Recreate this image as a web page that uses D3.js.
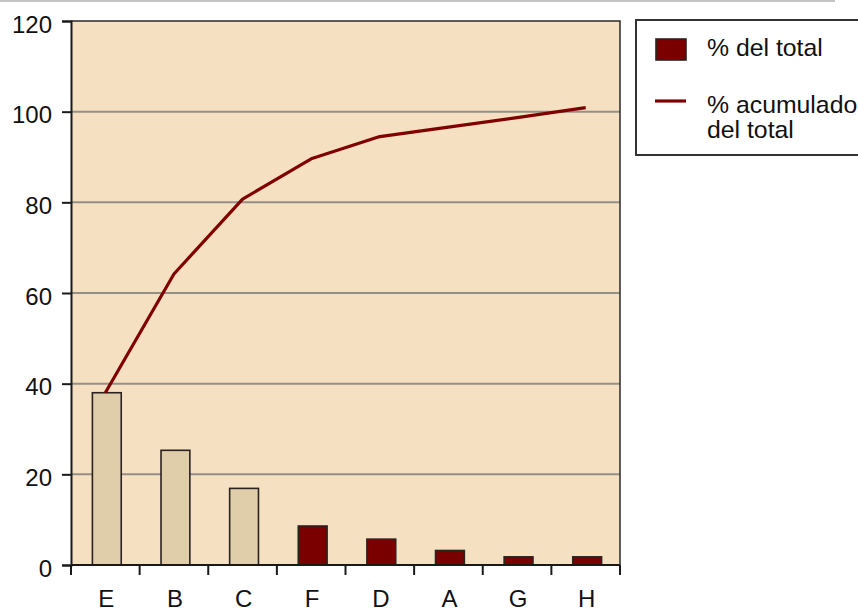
<!DOCTYPE html>
<html>
<head>
<meta charset="utf-8">
<script src="https://cdn.jsdelivr.net/npm/d3@7"></script>
<style>
  html, body { margin: 0; padding: 0; background: #ffffff; }
  svg { display: block; font-family: Arial, "Liberation Sans", sans-serif; }
</style>
</head>
<body>
<svg id="chart" width="858" height="612"></svg>
<script>
// Pareto data: share of total per category and running cumulative share
const categories = ["E", "B", "C", "F", "D", "A", "G", "H"];
const pctTotal = [38, 25.3, 16.9, 8.6, 5.7, 3.2, 1.8, 1.8];
const pctCumulative = [38, 64.2, 80.7, 89.6, 94.5, 96.6, 98.7, 100.9];
const yTicks = [0, 20, 40, 60, 80, 100, 120];
// first three categories are drawn in the light "vital few" colour
const highlighted = ["E", "B", "C"];
const legendLabels = ["% del total", ["% acumulado", "del total"]];

const svg = d3.select("#chart");
const plot = { left: 71, right: 620, top: 21, bottom: 565 };

const x = d3.scaleBand()
  .domain(categories)
  .range([plot.left, plot.right])
  .paddingInner(0.58)
  .paddingOuter(0.29);

const y = d3.scaleLinear()
  .domain([0, 120])
  .range([plot.bottom, plot.top]);

// thin rule along the top of the page
svg.append("line")
  .attr("x1", 0).attr("x2", 835)
  .attr("y1", 1).attr("y2", 1)
  .attr("stroke", "#c4c4c4").attr("stroke-width", 2);

// plot background
svg.append("rect")
  .attr("x", plot.left).attr("y", plot.top)
  .attr("width", plot.right - plot.left)
  .attr("height", plot.bottom - plot.top)
  .attr("fill", "#f5e1c2");

// horizontal gridlines
svg.append("g")
  .selectAll("line")
  .data(yTicks.filter(t => t > 0 && t < 120))
  .join("line")
  .attr("x1", plot.left).attr("x2", plot.right)
  .attr("y1", d => y(d)).attr("y2", d => y(d))
  .attr("stroke", "#948f87").attr("stroke-width", 2);

// plot frame (top and right)
svg.append("path")
  .attr("d", `M${plot.left},${plot.top}H${plot.right}V${plot.bottom}`)
  .attr("fill", "none")
  .attr("stroke", "#2a2a2a").attr("stroke-width", 1.5);

// bars, nudged slightly right of the band centre
svg.append("g")
  .attr("transform", "translate(1.5,0)")
  .selectAll("rect")
  .data(categories.map((c, i) => ({ c, v: pctTotal[i] })))
  .join("rect")
  .attr("x", d => x(d.c))
  .attr("y", d => y(d.v))
  .attr("width", x.bandwidth())
  .attr("height", d => y(0) - y(d.v))
  .attr("fill", d => highlighted.includes(d.c) ? "#e0cdaa" : "#7a0000")
  .attr("stroke", "#2a2320")
  .attr("stroke-width", 1.6);

// cumulative line
const line = d3.line()
  .x((d, i) => x(categories[i]) + x.bandwidth() / 2)
  .y(d => y(d));

svg.append("path")
  .datum(pctCumulative)
  .attr("d", line)
  .attr("fill", "none")
  .attr("stroke", "#800000")
  .attr("stroke-width", 3.2)
  .attr("stroke-linejoin", "round");

// y axis
const yAxis = d3.axisLeft(y)
  .tickValues(yTicks)
  .tickSize(9)
  .tickPadding(10)
  .tickFormat(d3.format("d"));

const gy = svg.append("g")
  .attr("transform", `translate(${plot.left},0)`)
  .call(yAxis);
gy.select(".domain").attr("stroke", "#1a1a1a").attr("stroke-width", 2);
gy.selectAll(".tick line").attr("stroke", "#1a1a1a").attr("stroke-width", 2);
gy.selectAll(".tick text")
  .attr("font-size", 24)
  .attr("fill", "#111")
  .attr("dy", "0.68em")
  .attr("y", -5);

// x axis: ticks sit at category boundaries
const boundaries = categories.map(c => x(c) - x.step() * x.paddingInner() / 2)
  .concat([plot.right]);
boundaries[0] = plot.left;

const gx = svg.append("g");
gx.append("line")
  .attr("x1", plot.left).attr("x2", plot.right)
  .attr("y1", plot.bottom).attr("y2", plot.bottom)
  .attr("stroke", "#1a1a1a").attr("stroke-width", 2);
gx.selectAll("line.tick")
  .data(boundaries)
  .join("line")
  .attr("class", "tick")
  .attr("x1", d => d).attr("x2", d => d)
  .attr("y1", plot.bottom).attr("y2", plot.bottom + 10)
  .attr("stroke", "#1a1a1a").attr("stroke-width", 2);
gx.selectAll("text")
  .data(categories)
  .join("text")
  .attr("x", d => x(d) + x.bandwidth() / 2 + 1)
  .attr("y", 607)
  .attr("text-anchor", "middle")
  .attr("font-size", 24)
  .attr("fill", "#111")
  .text(d => d);

// legend
const legend = svg.append("g");
legend.append("rect")
  .attr("x", 636).attr("y", 20)
  .attr("width", 240).attr("height", 135)
  .attr("fill", "#ffffff")
  .attr("stroke", "#333").attr("stroke-width", 2);

legend.append("rect")
  .attr("x", 656).attr("y", 39)
  .attr("width", 30).attr("height", 21)
  .attr("fill", "#7a0000")
  .attr("stroke", "#2a2320").attr("stroke-width", 1.6);
legend.append("text")
  .attr("x", 707).attr("y", 56)
  .attr("font-size", 24.8).attr("fill", "#111")
  .text(legendLabels[0]);

legend.append("line")
  .attr("x1", 655).attr("x2", 686)
  .attr("y1", 101).attr("y2", 101)
  .attr("stroke", "#800000").attr("stroke-width", 3.2);
legend.append("text")
  .attr("x", 707).attr("y", 113)
  .attr("font-size", 24.8).attr("fill", "#111")
  .selectAll("tspan")
  .data(legendLabels[1])
  .join("tspan")
  .attr("x", 707)
  .attr("dy", (d, i) => i === 0 ? 0 : 25)
  .text(d => d);
</script>
</body>
</html>
